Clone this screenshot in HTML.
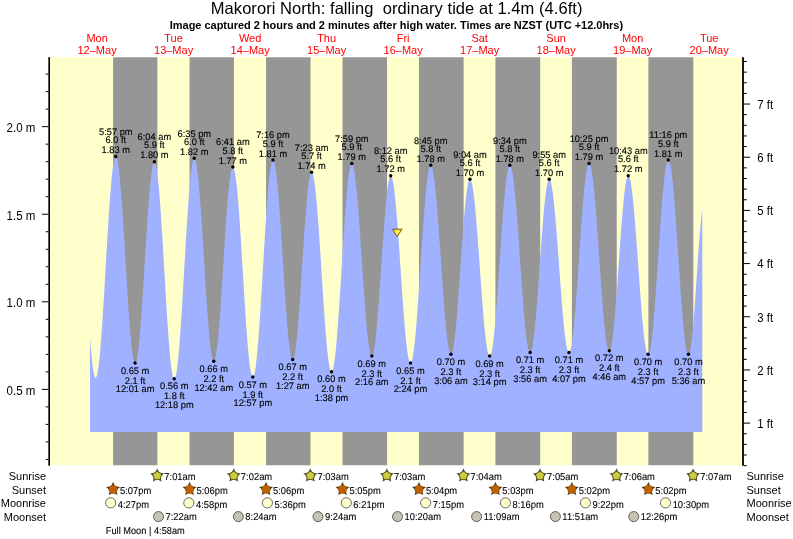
<!DOCTYPE html>
<html><head><meta charset="utf-8"><title>Makorori North tide chart</title>
<style>html,body{margin:0;padding:0;background:#fff}body{width:793px;height:539px;overflow:hidden;position:relative;font-family:"Liberation Sans",sans-serif}</style>
</head><body>
<svg width="793" height="539" viewBox="0 0 793 539" style="position:absolute;left:0;top:0;will-change:transform;font-family:'Liberation Sans',sans-serif">
<rect x="0" y="0" width="793" height="539" fill="#fff"/>
<rect x="50" y="57.25" width="692.5" height="408" fill="#ffffcc"/>
<rect x="113.10" y="57.25" width="44.31" height="408" fill="#969696"/>
<rect x="189.55" y="57.25" width="44.42" height="408" fill="#969696"/>
<rect x="266.06" y="57.25" width="44.47" height="408" fill="#969696"/>
<rect x="342.52" y="57.25" width="44.52" height="408" fill="#969696"/>
<rect x="418.98" y="57.25" width="44.63" height="408" fill="#969696"/>
<rect x="495.43" y="57.25" width="44.74" height="408" fill="#969696"/>
<rect x="571.89" y="57.25" width="44.84" height="408" fill="#969696"/>
<rect x="648.40" y="57.25" width="44.90" height="408" fill="#969696"/>
<path d="M90.00,432.00 L90.00,337.35 L90.50,343.92 L91.00,350.02 L91.50,355.59 L92.00,360.60 L92.50,365.03 L93.00,368.84 L93.50,372.01 L94.00,374.52 L94.50,376.34 L95.00,377.48 L95.50,377.92 L96.00,377.67 L96.50,376.75 L97.00,375.17 L97.50,372.94 L98.00,370.06 L98.50,366.57 L99.00,362.47 L99.50,357.80 L100.00,352.58 L100.50,346.84 L101.00,340.62 L101.50,333.96 L102.00,326.89 L102.50,319.47 L103.00,311.72 L103.50,303.71 L104.00,295.48 L104.50,287.07 L105.00,278.55 L105.50,269.96 L106.00,261.35 L106.50,252.78 L107.00,244.29 L107.50,235.95 L108.00,227.79 L108.50,219.87 L109.00,212.24 L109.50,204.94 L110.00,198.02 L110.50,191.51 L111.00,185.47 L111.50,179.92 L112.00,174.89 L112.50,170.43 L113.00,166.55 L113.50,163.28 L114.00,160.64 L114.50,158.65 L115.00,157.31 L115.50,156.64 L116.00,156.63 L116.50,157.31 L117.00,158.66 L117.50,160.68 L118.00,163.35 L118.50,166.66 L119.00,170.58 L119.50,175.09 L120.00,180.16 L120.50,185.75 L121.00,191.84 L121.50,198.37 L122.00,205.30 L122.50,212.60 L123.00,220.20 L123.50,228.07 L124.00,236.14 L124.50,244.38 L125.00,252.71 L125.50,261.09 L126.00,269.46 L126.50,277.77 L127.00,285.96 L127.50,293.98 L128.00,301.77 L128.50,309.28 L129.00,316.47 L129.50,323.29 L130.00,329.68 L130.50,335.62 L131.00,341.06 L131.50,345.96 L132.00,350.29 L132.50,354.02 L133.00,357.14 L133.50,359.61 L134.00,361.43 L134.50,362.57 L135.00,363.04 L135.50,362.83 L136.00,361.95 L136.50,360.42 L137.00,358.23 L137.50,355.42 L138.00,351.98 L138.50,347.95 L139.00,343.35 L139.50,338.22 L140.00,332.58 L140.50,326.48 L141.00,319.96 L141.50,313.05 L142.00,305.81 L142.50,298.28 L143.00,290.51 L143.50,282.56 L144.00,274.47 L144.50,266.30 L145.00,258.11 L145.50,249.94 L146.00,241.86 L146.50,233.92 L147.00,226.16 L147.50,218.65 L148.00,211.42 L148.50,204.53 L149.00,198.03 L149.50,191.95 L150.00,186.34 L150.50,181.24 L151.00,176.67 L151.50,172.67 L152.00,169.27 L152.50,166.48 L153.00,164.33 L153.50,162.83 L154.00,161.99 L154.50,161.82 L155.00,162.32 L155.50,163.50 L156.00,165.34 L156.50,167.84 L157.00,170.98 L157.50,174.73 L158.00,179.09 L158.50,184.01 L159.00,189.48 L159.50,195.45 L160.00,201.88 L160.50,208.75 L161.00,215.99 L161.50,223.58 L162.00,231.46 L162.50,239.58 L163.00,247.89 L163.50,256.35 L164.00,264.89 L164.50,273.46 L165.00,282.02 L165.50,290.50 L166.00,298.85 L166.50,307.03 L167.00,314.98 L167.50,322.64 L168.00,329.99 L168.50,336.95 L169.00,343.51 L169.50,349.60 L170.00,355.20 L170.50,360.27 L171.00,364.78 L171.50,368.70 L172.00,372.00 L172.50,374.67 L173.00,376.68 L173.50,378.04 L174.00,378.71 L174.50,378.72 L175.00,378.04 L175.50,376.69 L176.00,374.68 L176.50,372.01 L177.00,368.71 L177.50,364.80 L178.00,360.29 L178.50,355.22 L179.00,349.61 L179.50,343.51 L180.00,336.94 L180.50,329.96 L181.00,322.60 L181.50,314.90 L182.00,306.92 L182.50,298.71 L183.00,290.31 L183.50,281.78 L184.00,273.16 L184.50,264.52 L185.00,255.90 L185.50,247.36 L186.00,238.95 L186.50,230.72 L187.00,222.72 L187.50,215.01 L188.00,207.62 L188.50,200.61 L189.00,194.02 L189.50,187.88 L190.00,182.24 L190.50,177.13 L191.00,172.59 L191.50,168.63 L192.00,165.29 L192.50,162.58 L193.00,160.52 L193.50,159.13 L194.00,158.41 L194.50,158.36 L195.00,158.98 L195.50,160.25 L196.00,162.16 L196.50,164.71 L197.00,167.88 L197.50,171.64 L198.00,175.97 L198.50,180.85 L199.00,186.24 L199.50,192.10 L200.00,198.41 L200.50,205.11 L201.00,212.17 L201.50,219.54 L202.00,227.16 L202.50,235.00 L203.00,243.00 L203.50,251.11 L204.00,259.28 L204.50,267.45 L205.00,275.57 L205.50,283.59 L206.00,291.45 L206.50,299.11 L207.00,306.51 L207.50,313.61 L208.00,320.36 L208.50,326.72 L209.00,332.64 L209.50,338.09 L210.00,343.04 L210.50,347.44 L211.00,351.28 L211.50,354.52 L212.00,357.15 L212.50,359.14 L213.00,360.50 L213.50,361.20 L214.00,361.24 L214.50,360.62 L215.00,359.35 L215.50,357.44 L216.00,354.89 L216.50,351.73 L217.00,347.97 L217.50,343.65 L218.00,338.79 L218.50,333.42 L219.00,327.58 L219.50,321.31 L220.00,314.66 L220.50,307.66 L221.00,300.37 L221.50,292.84 L222.00,285.10 L222.50,277.23 L223.00,269.27 L223.50,261.28 L224.00,253.30 L224.50,245.40 L225.00,237.62 L225.50,230.03 L226.00,222.66 L226.50,215.58 L227.00,208.83 L227.50,202.45 L228.00,196.49 L228.50,190.99 L229.00,185.99 L229.50,181.51 L230.00,177.60 L230.50,174.27 L231.00,171.55 L231.50,169.46 L232.00,168.01 L232.50,167.22 L233.00,167.08 L233.50,167.59 L234.00,168.74 L234.50,170.54 L235.00,172.96 L235.50,176.00 L236.00,179.62 L236.50,183.82 L237.00,188.57 L237.50,193.83 L238.00,199.57 L238.50,205.76 L239.00,212.36 L239.50,219.33 L240.00,226.63 L240.50,234.21 L241.00,242.02 L241.50,250.01 L242.00,258.14 L242.50,266.36 L243.00,274.61 L243.50,282.85 L244.00,291.02 L244.50,299.07 L245.00,306.96 L245.50,314.63 L246.00,322.04 L246.50,329.14 L247.00,335.88 L247.50,342.23 L248.00,348.15 L248.50,353.60 L249.00,358.54 L249.50,362.95 L250.00,366.80 L250.50,370.06 L251.00,372.72 L251.50,374.75 L252.00,376.15 L252.50,376.91 L253.00,377.01 L253.50,376.46 L254.00,375.26 L254.50,373.40 L255.00,370.91 L255.50,367.80 L256.00,364.08 L256.50,359.78 L257.00,354.92 L257.50,349.54 L258.00,343.67 L258.50,337.34 L259.00,330.60 L259.50,323.47 L260.00,316.01 L260.50,308.26 L261.00,300.28 L261.50,292.09 L262.00,283.77 L262.50,275.35 L263.00,266.89 L263.50,258.44 L264.00,250.06 L264.50,241.78 L265.00,233.67 L265.50,225.77 L266.00,218.13 L266.50,210.79 L267.00,203.81 L267.50,197.22 L268.00,191.07 L268.50,185.39 L269.00,180.21 L269.50,175.57 L270.00,171.49 L270.50,168.01 L271.00,165.14 L271.50,162.89 L272.00,161.29 L272.50,160.34 L273.00,160.05 L273.50,160.40 L274.00,161.39 L274.50,163.00 L275.00,165.22 L275.50,168.05 L276.00,171.45 L276.50,175.42 L277.00,179.92 L277.50,184.93 L278.00,190.42 L278.50,196.34 L279.00,202.67 L279.50,209.36 L280.00,216.37 L280.50,223.66 L281.00,231.17 L281.50,238.87 L282.00,246.70 L282.50,254.61 L283.00,262.56 L283.50,270.49 L284.00,278.35 L284.50,286.09 L285.00,293.67 L285.50,301.03 L286.00,308.13 L286.50,314.92 L287.00,321.36 L287.50,327.42 L288.00,333.04 L288.50,338.20 L289.00,342.86 L289.50,346.99 L290.00,350.57 L290.50,353.58 L291.00,355.99 L291.50,357.78 L292.00,358.96 L292.50,359.51 L293.00,359.42 L293.50,358.69 L294.00,357.32 L294.50,355.32 L295.00,352.70 L295.50,349.48 L296.00,345.69 L296.50,341.35 L297.00,336.49 L297.50,331.14 L298.00,325.35 L298.50,319.14 L299.00,312.57 L299.50,305.67 L300.00,298.51 L300.50,291.11 L301.00,283.55 L301.50,275.86 L302.00,268.10 L302.50,260.33 L303.00,252.60 L303.50,244.96 L304.00,237.46 L304.50,230.16 L305.00,223.10 L305.50,216.35 L306.00,209.93 L306.50,203.90 L307.00,198.29 L307.50,193.16 L308.00,188.52 L308.50,184.42 L309.00,180.88 L309.50,177.92 L310.00,175.58 L310.50,173.85 L311.00,172.76 L311.50,172.31 L312.00,172.50 L312.50,173.31 L313.00,174.73 L313.50,176.75 L314.00,179.37 L314.50,182.57 L315.00,186.31 L315.50,190.60 L316.00,195.38 L316.50,200.65 L317.00,206.36 L317.50,212.47 L318.00,218.96 L318.50,225.77 L319.00,232.88 L319.50,240.22 L320.00,247.77 L320.50,255.46 L321.00,263.26 L321.50,271.11 L322.00,278.97 L322.50,286.79 L323.00,294.51 L323.50,302.09 L324.00,309.49 L324.50,316.66 L325.00,323.54 L325.50,330.11 L326.00,336.32 L326.50,342.13 L327.00,347.50 L327.50,352.41 L328.00,356.81 L328.50,360.69 L329.00,364.02 L329.50,366.77 L330.00,368.94 L330.50,370.51 L331.00,371.46 L331.50,371.80 L332.00,371.51 L332.50,370.60 L333.00,369.07 L333.50,366.93 L334.00,364.19 L334.50,360.88 L335.00,357.00 L335.50,352.58 L336.00,347.65 L336.50,342.24 L337.00,336.38 L337.50,330.11 L338.00,323.46 L338.50,316.48 L339.00,309.21 L339.50,301.68 L340.00,293.95 L340.50,286.06 L341.00,278.06 L341.50,269.99 L342.00,261.92 L342.50,253.88 L343.00,245.92 L343.50,238.09 L344.00,230.44 L344.50,223.01 L345.00,215.86 L345.50,209.01 L346.00,202.52 L346.50,196.42 L347.00,190.75 L347.50,185.54 L348.00,180.83 L348.50,176.63 L349.00,172.99 L349.50,169.92 L350.00,167.43 L350.50,165.55 L351.00,164.28 L351.50,163.64 L352.00,163.62 L352.50,164.19 L353.00,165.35 L353.50,167.09 L354.00,169.40 L354.50,172.27 L355.00,175.67 L355.50,179.60 L356.00,184.01 L356.50,188.89 L357.00,194.21 L357.50,199.93 L358.00,206.02 L358.50,212.43 L359.00,219.14 L359.50,226.10 L360.00,233.27 L360.50,240.60 L361.00,248.05 L361.50,255.57 L362.00,263.11 L362.50,270.64 L363.00,278.10 L363.50,285.44 L364.00,292.63 L364.50,299.62 L365.00,306.36 L365.50,312.82 L366.00,318.95 L366.50,324.71 L367.00,330.08 L367.50,335.02 L368.00,339.49 L368.50,343.47 L369.00,346.94 L369.50,349.88 L370.00,352.26 L370.50,354.07 L371.00,355.30 L371.50,355.95 L372.00,356.00 L372.50,355.43 L373.00,354.25 L373.50,352.46 L374.00,350.08 L374.50,347.11 L375.00,343.59 L375.50,339.53 L376.00,334.96 L376.50,329.91 L377.00,324.43 L377.50,318.54 L378.00,312.29 L378.50,305.72 L379.00,298.87 L379.50,291.80 L380.00,284.55 L380.50,277.17 L381.00,269.72 L381.50,262.24 L382.00,254.78 L382.50,247.40 L383.00,240.15 L383.50,233.07 L384.00,226.22 L384.50,219.65 L385.00,213.39 L385.50,207.50 L386.00,202.01 L386.50,196.96 L387.00,192.38 L387.50,188.32 L388.00,184.78 L388.50,181.81 L389.00,179.41 L389.50,177.62 L390.00,176.43 L390.50,175.86 L391.00,175.90 L391.50,176.54 L392.00,177.76 L392.50,179.56 L393.00,181.93 L393.50,184.85 L394.00,188.31 L394.50,192.27 L395.00,196.73 L395.50,201.64 L396.00,206.98 L396.50,212.72 L397.00,218.81 L397.50,225.22 L398.00,231.91 L398.50,238.84 L399.00,245.96 L399.50,253.23 L400.00,260.61 L400.50,268.03 L401.00,275.47 L401.50,282.87 L402.00,290.18 L402.50,297.36 L403.00,304.37 L403.50,311.16 L404.00,317.68 L404.50,323.90 L405.00,329.77 L405.50,335.26 L406.00,340.34 L406.50,344.97 L407.00,349.12 L407.50,352.77 L408.00,355.89 L408.50,358.47 L409.00,360.49 L409.50,361.93 L410.00,362.78 L410.50,363.05 L411.00,362.72 L411.50,361.80 L412.00,360.30 L412.50,358.21 L413.00,355.56 L413.50,352.36 L414.00,348.63 L414.50,344.39 L415.00,339.67 L415.50,334.49 L416.00,328.89 L416.50,322.90 L417.00,316.56 L417.50,309.90 L418.00,302.96 L418.50,295.80 L419.00,288.44 L419.50,280.94 L420.00,273.33 L420.50,265.67 L421.00,258.00 L421.50,250.37 L422.00,242.83 L422.50,235.41 L423.00,228.16 L423.50,221.13 L424.00,214.36 L424.50,207.89 L425.00,201.76 L425.50,196.00 L426.00,190.65 L426.50,185.75 L427.00,181.32 L427.50,177.39 L428.00,173.97 L428.50,171.11 L429.00,168.80 L429.50,167.06 L430.00,165.92 L430.50,165.36 L431.00,165.39 L431.50,165.99 L432.00,167.16 L432.50,168.89 L433.00,171.16 L433.50,173.96 L434.00,177.29 L434.50,181.11 L435.00,185.40 L435.50,190.14 L436.00,195.30 L436.50,200.85 L437.00,206.75 L437.50,212.97 L438.00,219.47 L438.50,226.22 L439.00,233.17 L439.50,240.28 L440.00,247.50 L440.50,254.80 L441.00,262.13 L441.50,269.45 L442.00,276.71 L442.50,283.86 L443.00,290.88 L443.50,297.70 L444.00,304.30 L444.50,310.63 L445.00,316.65 L445.50,322.33 L446.00,327.63 L446.50,332.53 L447.00,336.99 L447.50,340.98 L448.00,344.49 L448.50,347.48 L449.00,349.95 L449.50,351.88 L450.00,353.25 L450.50,354.06 L451.00,354.30 L451.50,353.96 L452.00,353.02 L452.50,351.49 L453.00,349.39 L453.50,346.73 L454.00,343.52 L454.50,339.79 L455.00,335.56 L455.50,330.86 L456.00,325.72 L456.50,320.19 L457.00,314.29 L457.50,308.06 L458.00,301.56 L458.50,294.81 L459.00,287.88 L459.50,280.80 L460.00,273.63 L460.50,266.41 L461.00,259.20 L461.50,252.03 L462.00,244.97 L462.50,238.05 L463.00,231.33 L463.50,224.86 L464.00,218.66 L464.50,212.80 L465.00,207.31 L465.50,202.22 L466.00,197.57 L466.50,193.39 L467.00,189.71 L467.50,186.56 L468.00,183.95 L468.50,181.91 L469.00,180.45 L469.50,179.58 L470.00,179.30 L470.50,179.60 L471.00,180.46 L471.50,181.88 L472.00,183.85 L472.50,186.35 L473.00,189.37 L473.50,192.89 L474.00,196.89 L474.50,201.33 L475.00,206.21 L475.50,211.47 L476.00,217.09 L476.50,223.04 L477.00,229.27 L477.50,235.75 L478.00,242.42 L478.50,249.26 L479.00,256.22 L479.50,263.25 L480.00,270.31 L480.50,277.36 L481.00,284.34 L481.50,291.21 L482.00,297.93 L482.50,304.47 L483.00,310.76 L483.50,316.78 L484.00,322.49 L484.50,327.85 L485.00,332.82 L485.50,337.38 L486.00,341.50 L486.50,345.14 L487.00,348.29 L487.50,350.92 L488.00,353.02 L488.50,354.58 L489.00,355.58 L489.50,356.03 L490.00,355.90 L490.50,355.20 L491.00,353.93 L491.50,352.09 L492.00,349.71 L492.50,346.78 L493.00,343.33 L493.50,339.38 L494.00,334.95 L494.50,330.08 L495.00,324.79 L495.50,319.10 L496.00,313.07 L496.50,306.72 L497.00,300.09 L497.50,293.22 L498.00,286.15 L498.50,278.93 L499.00,271.60 L499.50,264.20 L500.00,256.78 L500.50,249.39 L501.00,242.06 L501.50,234.85 L502.00,227.79 L502.50,220.93 L503.00,214.31 L503.50,207.98 L504.00,201.96 L504.50,196.29 L505.00,191.02 L505.50,186.17 L506.00,181.76 L506.50,177.84 L507.00,174.42 L507.50,171.51 L508.00,169.15 L508.50,167.34 L509.00,166.10 L509.50,165.43 L510.00,165.33 L510.50,165.80 L511.00,166.82 L511.50,168.40 L512.00,170.52 L512.50,173.17 L513.00,176.33 L513.50,179.98 L514.00,184.11 L514.50,188.69 L515.00,193.68 L515.50,199.07 L516.00,204.82 L516.50,210.89 L517.00,217.24 L517.50,223.85 L518.00,230.67 L518.50,237.65 L519.00,244.76 L519.50,251.96 L520.00,259.20 L520.50,266.44 L521.00,273.63 L521.50,280.74 L522.00,287.71 L522.50,294.51 L523.00,301.10 L523.50,307.44 L524.00,313.48 L524.50,319.20 L525.00,324.56 L525.50,329.53 L526.00,334.07 L526.50,338.16 L527.00,341.78 L527.50,344.90 L528.00,347.51 L528.50,349.59 L529.00,351.12 L529.50,352.11 L530.00,352.53 L530.50,352.39 L531.00,351.66 L531.50,350.35 L532.00,348.47 L532.50,346.03 L533.00,343.05 L533.50,339.54 L534.00,335.53 L534.50,331.06 L535.00,326.14 L535.50,320.81 L536.00,315.11 L536.50,309.08 L537.00,302.76 L537.50,296.18 L538.00,289.40 L538.50,282.46 L539.00,275.41 L539.50,268.30 L540.00,261.17 L540.50,254.07 L541.00,247.05 L541.50,240.16 L542.00,233.44 L542.50,226.95 L543.00,220.72 L543.50,214.79 L544.00,209.21 L544.50,204.02 L545.00,199.24 L545.50,194.92 L546.00,191.08 L546.50,187.75 L547.00,184.94 L547.50,182.69 L548.00,181.00 L548.50,179.88 L549.00,179.35 L549.50,179.40 L550.00,179.99 L550.50,181.13 L551.00,182.81 L551.50,185.01 L552.00,187.72 L552.50,190.92 L553.00,194.60 L553.50,198.73 L554.00,203.28 L554.50,208.23 L555.00,213.54 L555.50,219.18 L556.00,225.12 L556.50,231.31 L557.00,237.73 L557.50,244.32 L558.00,251.05 L558.50,257.87 L559.00,264.74 L559.50,271.62 L560.00,278.46 L560.50,285.23 L561.00,291.87 L561.50,298.35 L562.00,304.63 L562.50,310.66 L563.00,316.41 L563.50,321.84 L564.00,326.91 L564.50,331.60 L565.00,335.88 L565.50,339.72 L566.00,343.08 L566.50,345.97 L567.00,348.34 L567.50,350.20 L568.00,351.53 L568.50,352.31 L569.00,352.55 L569.50,352.22 L570.00,351.32 L570.50,349.85 L571.00,347.82 L571.50,345.24 L572.00,342.12 L572.50,338.49 L573.00,334.37 L573.50,329.79 L574.00,324.76 L574.50,319.33 L575.00,313.52 L575.50,307.37 L576.00,300.93 L576.50,294.21 L577.00,287.28 L577.50,280.17 L578.00,272.93 L578.50,265.59 L579.00,258.21 L579.50,250.82 L580.00,243.48 L580.50,236.23 L581.00,229.11 L581.50,222.17 L582.00,215.45 L582.50,208.99 L583.00,202.83 L583.50,197.01 L584.00,191.56 L584.50,186.52 L585.00,181.91 L585.50,177.77 L586.00,174.12 L586.50,170.98 L587.00,168.38 L587.50,166.32 L588.00,164.83 L588.50,163.90 L589.00,163.55 L589.50,163.78 L590.00,164.56 L590.50,165.90 L591.00,167.79 L591.50,170.22 L592.00,173.18 L592.50,176.63 L593.00,180.58 L593.50,184.98 L594.00,189.82 L594.50,195.06 L595.00,200.68 L595.50,206.64 L596.00,212.90 L596.50,219.43 L597.00,226.18 L597.50,233.12 L598.00,240.21 L598.50,247.40 L599.00,254.65 L599.50,261.91 L600.00,269.14 L600.50,276.30 L601.00,283.35 L601.50,290.24 L602.00,296.93 L602.50,303.38 L603.00,309.56 L603.50,315.41 L604.00,320.92 L604.50,326.04 L605.00,330.75 L605.50,335.02 L606.00,338.82 L606.50,342.13 L607.00,344.92 L607.50,347.19 L608.00,348.91 L608.50,350.09 L609.00,350.70 L609.50,350.75 L610.00,350.21 L610.50,349.07 L611.00,347.34 L611.50,345.03 L612.00,342.17 L612.50,338.76 L613.00,334.84 L613.50,330.43 L614.00,325.56 L614.50,320.26 L615.00,314.57 L615.50,308.53 L616.00,302.18 L616.50,295.56 L617.00,288.72 L617.50,281.71 L618.00,274.57 L618.50,267.35 L619.00,260.11 L619.50,252.89 L620.00,245.74 L620.50,238.71 L621.00,231.84 L621.50,225.20 L622.00,218.81 L622.50,212.73 L623.00,207.00 L623.50,201.65 L624.00,196.73 L624.50,192.26 L625.00,188.28 L625.50,184.81 L626.00,181.88 L626.50,179.51 L627.00,177.71 L627.50,176.50 L628.00,175.88 L628.50,175.86 L629.00,176.40 L629.50,177.50 L630.00,179.14 L630.50,181.32 L631.00,184.02 L631.50,187.23 L632.00,190.92 L632.50,195.08 L633.00,199.67 L633.50,204.67 L634.00,210.05 L634.50,215.78 L635.00,221.81 L635.50,228.11 L636.00,234.64 L636.50,241.36 L637.00,248.23 L637.50,255.20 L638.00,262.24 L638.50,269.29 L639.00,276.31 L639.50,283.27 L640.00,290.11 L640.50,296.80 L641.00,303.29 L641.50,309.54 L642.00,315.51 L642.50,321.16 L643.00,326.47 L643.50,331.39 L644.00,335.90 L644.50,339.96 L645.00,343.56 L645.50,346.67 L646.00,349.26 L646.50,351.33 L647.00,352.87 L647.50,353.85 L648.00,354.28 L648.50,354.14 L649.00,353.42 L649.50,352.11 L650.00,350.22 L650.50,347.76 L651.00,344.76 L651.50,341.22 L652.00,337.17 L652.50,332.64 L653.00,327.64 L653.50,322.22 L654.00,316.40 L654.50,310.22 L655.00,303.72 L655.50,296.94 L656.00,289.91 L656.50,282.69 L657.00,275.31 L657.50,267.82 L658.00,260.26 L658.50,252.69 L659.00,245.14 L659.50,237.67 L660.00,230.31 L660.50,223.12 L661.00,216.14 L661.50,209.40 L662.00,202.96 L662.50,196.84 L663.00,191.09 L663.50,185.75 L664.00,180.84 L664.50,176.39 L665.00,172.43 L665.50,168.99 L666.00,166.09 L666.50,163.74 L667.00,161.96 L667.50,160.75 L668.00,160.14 L668.50,160.11 L669.00,160.67 L669.50,161.82 L670.00,163.54 L670.50,165.83 L671.00,168.67 L671.50,172.04 L672.00,175.94 L672.50,180.32 L673.00,185.17 L673.50,190.45 L674.00,196.14 L674.50,202.19 L675.00,208.58 L675.50,215.27 L676.00,222.20 L676.50,229.35 L677.00,236.67 L677.50,244.11 L678.00,251.63 L678.50,259.18 L679.00,266.72 L679.50,274.21 L680.00,281.59 L680.50,288.82 L681.00,295.86 L681.50,302.67 L682.00,309.20 L682.50,315.42 L683.00,321.28 L683.50,326.76 L684.00,331.81 L684.50,336.42 L685.00,340.54 L685.50,344.16 L686.00,347.26 L686.50,349.81 L687.00,351.80 L687.50,353.21 L688.00,354.05 L688.50,354.30 L689.00,353.89 L689.50,352.79 L690.00,351.00 L690.50,348.54 L691.00,345.43 L691.50,341.70 L692.00,337.38 L692.50,332.51 L693.00,327.13 L693.50,321.30 L694.00,315.07 L694.50,308.49 L695.00,301.62 L695.50,294.52 L696.00,287.27 L696.50,279.91 L697.00,272.53 L697.50,265.18 L698.00,257.94 L698.50,250.86 L699.00,244.02 L699.50,237.47 L700.00,231.28 L700.50,225.49 L701.00,220.17 L701.50,215.35 L702.00,211.09 L702.30,208.82 L702.30,432.00 Z" fill="#a0b2ff"/>
<g stroke="#000" stroke-width="1" shape-rendering="crispEdges">
<rect x="48.35" y="57.15" width="1.65" height="408.6" fill="#000" stroke="none" shape-rendering="auto"/>
<rect x="742.1" y="57.15" width="1.8" height="408.6" fill="#000" stroke="none" shape-rendering="auto"/>
</g>
<g stroke="#000" stroke-width="1">
<line x1="45.7" y1="459.44" x2="48.5" y2="459.44"/>
<line x1="45.7" y1="441.92" x2="48.5" y2="441.92"/>
<line x1="45.7" y1="424.40" x2="48.5" y2="424.40"/>
<line x1="45.7" y1="406.89" x2="48.5" y2="406.89"/>
<line x1="42" y1="389.38" x2="48.5" y2="389.38"/>
<line x1="45.7" y1="371.86" x2="48.5" y2="371.86"/>
<line x1="45.7" y1="354.35" x2="48.5" y2="354.35"/>
<line x1="45.7" y1="336.83" x2="48.5" y2="336.83"/>
<line x1="45.7" y1="319.31" x2="48.5" y2="319.31"/>
<line x1="42" y1="301.80" x2="48.5" y2="301.80"/>
<line x1="45.7" y1="284.28" x2="48.5" y2="284.28"/>
<line x1="45.7" y1="266.77" x2="48.5" y2="266.77"/>
<line x1="45.7" y1="249.25" x2="48.5" y2="249.25"/>
<line x1="45.7" y1="231.74" x2="48.5" y2="231.74"/>
<line x1="42" y1="214.22" x2="48.5" y2="214.22"/>
<line x1="45.7" y1="196.71" x2="48.5" y2="196.71"/>
<line x1="45.7" y1="179.19" x2="48.5" y2="179.19"/>
<line x1="45.7" y1="161.68" x2="48.5" y2="161.68"/>
<line x1="45.7" y1="144.17" x2="48.5" y2="144.17"/>
<line x1="42" y1="126.65" x2="48.5" y2="126.65"/>
<line x1="45.7" y1="109.13" x2="48.5" y2="109.13"/>
<line x1="45.7" y1="91.62" x2="48.5" y2="91.62"/>
<line x1="45.7" y1="74.11" x2="48.5" y2="74.11"/>
<line x1="743.8" y1="465.66" x2="746.8" y2="465.66"/>
<line x1="743.8" y1="455.03" x2="746.8" y2="455.03"/>
<line x1="743.8" y1="444.39" x2="746.8" y2="444.39"/>
<line x1="743.8" y1="433.76" x2="746.8" y2="433.76"/>
<line x1="743.8" y1="423.12" x2="750" y2="423.12"/>
<line x1="743.8" y1="412.48" x2="746.8" y2="412.48"/>
<line x1="743.8" y1="401.85" x2="746.8" y2="401.85"/>
<line x1="743.8" y1="391.21" x2="746.8" y2="391.21"/>
<line x1="743.8" y1="380.58" x2="746.8" y2="380.58"/>
<line x1="743.8" y1="369.94" x2="750" y2="369.94"/>
<line x1="743.8" y1="359.30" x2="746.8" y2="359.30"/>
<line x1="743.8" y1="348.67" x2="746.8" y2="348.67"/>
<line x1="743.8" y1="338.03" x2="746.8" y2="338.03"/>
<line x1="743.8" y1="327.40" x2="746.8" y2="327.40"/>
<line x1="743.8" y1="316.76" x2="750" y2="316.76"/>
<line x1="743.8" y1="306.12" x2="746.8" y2="306.12"/>
<line x1="743.8" y1="295.49" x2="746.8" y2="295.49"/>
<line x1="743.8" y1="284.85" x2="746.8" y2="284.85"/>
<line x1="743.8" y1="274.22" x2="746.8" y2="274.22"/>
<line x1="743.8" y1="263.58" x2="750" y2="263.58"/>
<line x1="743.8" y1="252.94" x2="746.8" y2="252.94"/>
<line x1="743.8" y1="242.31" x2="746.8" y2="242.31"/>
<line x1="743.8" y1="231.67" x2="746.8" y2="231.67"/>
<line x1="743.8" y1="221.04" x2="746.8" y2="221.04"/>
<line x1="743.8" y1="210.40" x2="750" y2="210.40"/>
<line x1="743.8" y1="199.76" x2="746.8" y2="199.76"/>
<line x1="743.8" y1="189.13" x2="746.8" y2="189.13"/>
<line x1="743.8" y1="178.49" x2="746.8" y2="178.49"/>
<line x1="743.8" y1="167.86" x2="746.8" y2="167.86"/>
<line x1="743.8" y1="157.22" x2="750" y2="157.22"/>
<line x1="743.8" y1="146.58" x2="746.8" y2="146.58"/>
<line x1="743.8" y1="135.95" x2="746.8" y2="135.95"/>
<line x1="743.8" y1="125.31" x2="746.8" y2="125.31"/>
<line x1="743.8" y1="114.68" x2="746.8" y2="114.68"/>
<line x1="743.8" y1="104.04" x2="750" y2="104.04"/>
<line x1="743.8" y1="93.40" x2="746.8" y2="93.40"/>
<line x1="743.8" y1="82.77" x2="746.8" y2="82.77"/>
<line x1="743.8" y1="72.13" x2="746.8" y2="72.13"/>
<line x1="743.8" y1="61.50" x2="746.8" y2="61.50"/>
</g>
<g font-size="12" fill="#000">
<text transform="translate(35.4 394.50) scale(0.96 1)" text-anchor="end">0.5 m</text>
<text transform="translate(35.4 306.50) scale(0.96 1)" text-anchor="end">1.0 m</text>
<text transform="translate(35.4 219.50) scale(0.96 1)" text-anchor="end">1.5 m</text>
<text transform="translate(35.4 131.50) scale(0.96 1)" text-anchor="end">2.0 m</text>
<text transform="translate(757.3 428.02) scale(0.95 1)">1 ft</text>
<text transform="translate(757.3 374.84) scale(0.95 1)">2 ft</text>
<text transform="translate(757.3 321.66) scale(0.95 1)">3 ft</text>
<text transform="translate(757.3 268.48) scale(0.95 1)">4 ft</text>
<text transform="translate(757.3 215.30) scale(0.95 1)">5 ft</text>
<text transform="translate(757.3 162.12) scale(0.95 1)">6 ft</text>
<text transform="translate(757.3 108.94) scale(0.95 1)">7 ft</text>
</g>
<text x="210.8" y="14" font-size="16.5" textLength="371.7" lengthAdjust="spacing" fill="#000" xml:space="preserve">Makorori North: falling  ordinary tide at 1.4m (4.6ft)</text>
<text x="169.8" y="28.6" font-size="11" font-weight="bold" textLength="453.3" lengthAdjust="spacing" fill="#000">Image captured 2 hours and 2 minutes after high water. Times are NZST (UTC +12.0hrs)</text>
<g font-size="11" fill="#ff0000" text-anchor="middle">
<text x="97.08" y="41.6">Mon</text>
<text x="97.08" y="54.4">12–May</text>
<text x="173.60" y="41.6">Tue</text>
<text x="173.60" y="54.4">13–May</text>
<text x="250.11" y="41.6">Wed</text>
<text x="250.11" y="54.4">14–May</text>
<text x="326.62" y="41.6">Thu</text>
<text x="326.62" y="54.4">15–May</text>
<text x="403.13" y="41.6">Fri</text>
<text x="403.13" y="54.4">16–May</text>
<text x="479.64" y="41.6">Sat</text>
<text x="479.64" y="54.4">17–May</text>
<text x="556.14" y="41.6">Sun</text>
<text x="556.14" y="54.4">18–May</text>
<text x="632.65" y="41.6">Mon</text>
<text x="632.65" y="54.4">19–May</text>
<text x="709.16" y="41.6">Tue</text>
<text x="709.16" y="54.4">20–May</text>
</g>
<g font-size="9.6" fill="#000" stroke="#000" stroke-width="0.12" text-anchor="middle">
<text transform="translate(115.75 134.85) scale(0.97 1) skewX(0.1)">5:57 pm</text>
<text transform="translate(115.75 143.05) scale(0.97 1) skewX(0.1)">6.0 ft</text>
<text transform="translate(115.75 153.05) scale(0.97 1) skewX(0.1)">1.83 m</text>
<text transform="translate(135.09 373.55) scale(0.97 1) skewX(0.1)">0.65 m</text>
<text transform="translate(135.09 383.55) scale(0.97 1) skewX(0.1)">2.1 ft</text>
<text transform="translate(135.09 392.25) scale(0.97 1) skewX(0.1)">12:01 am</text>
<text transform="translate(154.38 140.10) scale(0.97 1) skewX(0.1)">6:04 am</text>
<text transform="translate(154.38 148.30) scale(0.97 1) skewX(0.1)">5.9 ft</text>
<text transform="translate(154.38 158.30) scale(0.97 1) skewX(0.1)">1.80 m</text>
<text transform="translate(174.25 389.30) scale(0.97 1) skewX(0.1)">0.56 m</text>
<text transform="translate(174.25 399.30) scale(0.97 1) skewX(0.1)">1.8 ft</text>
<text transform="translate(174.25 408.00) scale(0.97 1) skewX(0.1)">12:18 pm</text>
<text transform="translate(194.28 136.60) scale(0.97 1) skewX(0.1)">6:35 pm</text>
<text transform="translate(194.28 144.80) scale(0.97 1) skewX(0.1)">6.0 ft</text>
<text transform="translate(194.28 154.80) scale(0.97 1) skewX(0.1)">1.82 m</text>
<text transform="translate(213.78 371.80) scale(0.97 1) skewX(0.1)">0.66 m</text>
<text transform="translate(213.78 381.80) scale(0.97 1) skewX(0.1)">2.2 ft</text>
<text transform="translate(213.78 390.50) scale(0.97 1) skewX(0.1)">12:42 am</text>
<text transform="translate(232.86 145.35) scale(0.97 1) skewX(0.1)">6:41 am</text>
<text transform="translate(232.86 153.55) scale(0.97 1) skewX(0.1)">5.8 ft</text>
<text transform="translate(232.86 163.55) scale(0.97 1) skewX(0.1)">1.77 m</text>
<text transform="translate(252.83 387.55) scale(0.97 1) skewX(0.1)">0.57 m</text>
<text transform="translate(252.83 397.55) scale(0.97 1) skewX(0.1)">1.9 ft</text>
<text transform="translate(252.83 406.25) scale(0.97 1) skewX(0.1)">12:57 pm</text>
<text transform="translate(272.97 138.35) scale(0.97 1) skewX(0.1)">7:16 pm</text>
<text transform="translate(272.97 146.55) scale(0.97 1) skewX(0.1)">5.9 ft</text>
<text transform="translate(272.97 156.55) scale(0.97 1) skewX(0.1)">1.81 m</text>
<text transform="translate(292.68 370.05) scale(0.97 1) skewX(0.1)">0.67 m</text>
<text transform="translate(292.68 380.05) scale(0.97 1) skewX(0.1)">2.2 ft</text>
<text transform="translate(292.68 388.75) scale(0.97 1) skewX(0.1)">1:27 am</text>
<text transform="translate(311.60 150.60) scale(0.97 1) skewX(0.1)">7:23 am</text>
<text transform="translate(311.60 158.80) scale(0.97 1) skewX(0.1)">5.7 ft</text>
<text transform="translate(311.60 168.80) scale(0.97 1) skewX(0.1)">1.74 m</text>
<text transform="translate(331.52 382.30) scale(0.97 1) skewX(0.1)">0.60 m</text>
<text transform="translate(331.52 392.30) scale(0.97 1) skewX(0.1)">2.0 ft</text>
<text transform="translate(331.52 401.00) scale(0.97 1) skewX(0.1)">1:38 pm</text>
<text transform="translate(351.77 141.85) scale(0.97 1) skewX(0.1)">7:59 pm</text>
<text transform="translate(351.77 150.05) scale(0.97 1) skewX(0.1)">5.9 ft</text>
<text transform="translate(351.77 160.05) scale(0.97 1) skewX(0.1)">1.79 m</text>
<text transform="translate(371.80 366.55) scale(0.97 1) skewX(0.1)">0.69 m</text>
<text transform="translate(371.80 376.55) scale(0.97 1) skewX(0.1)">2.3 ft</text>
<text transform="translate(371.80 385.25) scale(0.97 1) skewX(0.1)">2:16 am</text>
<text transform="translate(390.71 154.10) scale(0.97 1) skewX(0.1)">8:12 am</text>
<text transform="translate(390.71 162.30) scale(0.97 1) skewX(0.1)">5.6 ft</text>
<text transform="translate(390.71 172.30) scale(0.97 1) skewX(0.1)">1.72 m</text>
<text transform="translate(410.48 373.55) scale(0.97 1) skewX(0.1)">0.65 m</text>
<text transform="translate(410.48 383.55) scale(0.97 1) skewX(0.1)">2.1 ft</text>
<text transform="translate(410.48 392.25) scale(0.97 1) skewX(0.1)">2:24 pm</text>
<text transform="translate(430.72 143.60) scale(0.97 1) skewX(0.1)">8:45 pm</text>
<text transform="translate(430.72 151.80) scale(0.97 1) skewX(0.1)">5.8 ft</text>
<text transform="translate(430.72 161.80) scale(0.97 1) skewX(0.1)">1.78 m</text>
<text transform="translate(450.96 364.80) scale(0.97 1) skewX(0.1)">0.70 m</text>
<text transform="translate(450.96 374.80) scale(0.97 1) skewX(0.1)">2.3 ft</text>
<text transform="translate(450.96 383.50) scale(0.97 1) skewX(0.1)">3:06 am</text>
<text transform="translate(469.98 157.60) scale(0.97 1) skewX(0.1)">9:04 am</text>
<text transform="translate(469.98 165.80) scale(0.97 1) skewX(0.1)">5.6 ft</text>
<text transform="translate(469.98 175.80) scale(0.97 1) skewX(0.1)">1.70 m</text>
<text transform="translate(489.64 366.55) scale(0.97 1) skewX(0.1)">0.69 m</text>
<text transform="translate(489.64 376.55) scale(0.97 1) skewX(0.1)">2.3 ft</text>
<text transform="translate(489.64 385.25) scale(0.97 1) skewX(0.1)">3:14 pm</text>
<text transform="translate(509.83 143.60) scale(0.97 1) skewX(0.1)">9:34 pm</text>
<text transform="translate(509.83 151.80) scale(0.97 1) skewX(0.1)">5.8 ft</text>
<text transform="translate(509.83 161.80) scale(0.97 1) skewX(0.1)">1.78 m</text>
<text transform="translate(530.13 363.05) scale(0.97 1) skewX(0.1)">0.71 m</text>
<text transform="translate(530.13 373.05) scale(0.97 1) skewX(0.1)">2.3 ft</text>
<text transform="translate(530.13 381.75) scale(0.97 1) skewX(0.1)">3:56 am</text>
<text transform="translate(549.20 157.60) scale(0.97 1) skewX(0.1)">9:55 am</text>
<text transform="translate(549.20 165.80) scale(0.97 1) skewX(0.1)">5.6 ft</text>
<text transform="translate(549.20 175.80) scale(0.97 1) skewX(0.1)">1.70 m</text>
<text transform="translate(568.97 363.05) scale(0.97 1) skewX(0.1)">0.71 m</text>
<text transform="translate(568.97 373.05) scale(0.97 1) skewX(0.1)">2.3 ft</text>
<text transform="translate(568.97 381.75) scale(0.97 1) skewX(0.1)">4:07 pm</text>
<text transform="translate(589.05 141.85) scale(0.97 1) skewX(0.1)">10:25 pm</text>
<text transform="translate(589.05 150.05) scale(0.97 1) skewX(0.1)">5.9 ft</text>
<text transform="translate(589.05 160.05) scale(0.97 1) skewX(0.1)">1.79 m</text>
<text transform="translate(609.30 361.30) scale(0.97 1) skewX(0.1)">0.72 m</text>
<text transform="translate(609.30 371.30) scale(0.97 1) skewX(0.1)">2.4 ft</text>
<text transform="translate(609.30 380.00) scale(0.97 1) skewX(0.1)">4:46 am</text>
<text transform="translate(628.26 154.10) scale(0.97 1) skewX(0.1)">10:43 am</text>
<text transform="translate(628.26 162.30) scale(0.97 1) skewX(0.1)">5.6 ft</text>
<text transform="translate(628.26 172.30) scale(0.97 1) skewX(0.1)">1.72 m</text>
<text transform="translate(648.14 364.80) scale(0.97 1) skewX(0.1)">0.70 m</text>
<text transform="translate(648.14 374.80) scale(0.97 1) skewX(0.1)">2.3 ft</text>
<text transform="translate(648.14 383.50) scale(0.97 1) skewX(0.1)">4:57 pm</text>
<text transform="translate(668.27 138.35) scale(0.97 1) skewX(0.1)">11:16 pm</text>
<text transform="translate(668.27 146.55) scale(0.97 1) skewX(0.1)">5.9 ft</text>
<text transform="translate(668.27 156.55) scale(0.97 1) skewX(0.1)">1.81 m</text>
<text transform="translate(688.46 364.80) scale(0.97 1) skewX(0.1)">0.70 m</text>
<text transform="translate(688.46 374.80) scale(0.97 1) skewX(0.1)">2.3 ft</text>
<text transform="translate(688.46 383.50) scale(0.97 1) skewX(0.1)">5:36 am</text>
</g>
<circle cx="115.75" cy="156.55" r="1.7" fill="#000"/>
<circle cx="135.09" cy="363.05" r="1.7" fill="#000"/>
<circle cx="154.38" cy="161.80" r="1.7" fill="#000"/>
<circle cx="174.25" cy="378.80" r="1.7" fill="#000"/>
<circle cx="194.28" cy="158.30" r="1.7" fill="#000"/>
<circle cx="213.78" cy="361.30" r="1.7" fill="#000"/>
<circle cx="232.86" cy="167.05" r="1.7" fill="#000"/>
<circle cx="252.83" cy="377.05" r="1.7" fill="#000"/>
<circle cx="272.97" cy="160.05" r="1.7" fill="#000"/>
<circle cx="292.68" cy="359.55" r="1.7" fill="#000"/>
<circle cx="311.60" cy="172.30" r="1.7" fill="#000"/>
<circle cx="331.52" cy="371.80" r="1.7" fill="#000"/>
<circle cx="351.77" cy="163.55" r="1.7" fill="#000"/>
<circle cx="371.80" cy="356.05" r="1.7" fill="#000"/>
<circle cx="390.71" cy="175.80" r="1.7" fill="#000"/>
<circle cx="410.48" cy="363.05" r="1.7" fill="#000"/>
<circle cx="430.72" cy="165.30" r="1.7" fill="#000"/>
<circle cx="450.96" cy="354.30" r="1.7" fill="#000"/>
<circle cx="469.98" cy="179.30" r="1.7" fill="#000"/>
<circle cx="489.64" cy="356.05" r="1.7" fill="#000"/>
<circle cx="509.83" cy="165.30" r="1.7" fill="#000"/>
<circle cx="530.13" cy="352.55" r="1.7" fill="#000"/>
<circle cx="549.20" cy="179.30" r="1.7" fill="#000"/>
<circle cx="568.97" cy="352.55" r="1.7" fill="#000"/>
<circle cx="589.05" cy="163.55" r="1.7" fill="#000"/>
<circle cx="609.30" cy="350.80" r="1.7" fill="#000"/>
<circle cx="628.26" cy="175.80" r="1.7" fill="#000"/>
<circle cx="648.14" cy="354.30" r="1.7" fill="#000"/>
<circle cx="668.27" cy="160.05" r="1.7" fill="#000"/>
<circle cx="688.46" cy="354.30" r="1.7" fill="#000"/>
<path d="M392.6,229.2 L402,229.2 L397.1,236.7 Z" fill="#f0f040" stroke="#703000" stroke-width="0.8"/>
<g font-size="11" fill="#000">
<text x="46" y="479.70" text-anchor="end">Sunrise</text>
<text x="746.5" y="479.70">Sunrise</text>
<text x="46" y="493.70" text-anchor="end">Sunset</text>
<text x="746.5" y="493.70">Sunset</text>
<text x="46" y="506.80" text-anchor="end">Moonrise</text>
<text x="746.5" y="506.80">Moonrise</text>
<text x="46" y="520.60" text-anchor="end">Moonset</text>
<text x="746.5" y="520.60">Moonset</text>
</g>
<g font-size="10" fill="#000" stroke="#000" stroke-width="0.1">
<polygon points="157.21,468.50 159.15,473.03 164.06,473.48 160.35,476.72 161.44,481.52 157.21,479.00 152.98,481.52 154.07,476.72 150.36,473.48 155.27,473.03" fill="#4a4a18"/>
<polygon points="157.21,470.40 159.73,472.23 162.25,474.06 161.29,477.02 160.32,479.99 157.21,479.99 154.09,479.99 153.13,477.02 152.17,474.06 154.69,472.23" fill="#5a5a20"/>
<polygon points="157.21,471.40 159.25,472.89 161.30,474.37 160.52,476.77 159.74,479.18 157.21,479.18 154.68,479.18 153.90,476.77 153.12,474.37 155.16,472.89" fill="#cccc40"/>
<text transform="translate(164.31 479.50) scale(0.94 1) skewX(0.1)">7:01am</text>
<polygon points="233.77,468.50 235.71,473.03 240.62,473.48 236.91,476.72 238.00,481.52 233.77,479.00 229.54,481.52 230.63,476.72 226.92,473.48 231.83,473.03" fill="#4a4a18"/>
<polygon points="233.77,470.40 236.29,472.23 238.81,474.06 237.85,477.02 236.89,479.99 233.77,479.99 230.66,479.99 229.69,477.02 228.73,474.06 231.25,472.23" fill="#5a5a20"/>
<polygon points="233.77,471.40 235.82,472.89 237.86,474.37 237.08,476.77 236.30,479.18 233.77,479.18 231.24,479.18 230.46,476.77 229.68,474.37 231.73,472.89" fill="#cccc40"/>
<text transform="translate(240.87 479.50) scale(0.94 1) skewX(0.1)">7:02am</text>
<polygon points="310.33,468.50 312.27,473.03 317.18,473.48 313.47,476.72 314.57,481.52 310.33,479.00 306.10,481.52 307.20,476.72 303.49,473.48 308.40,473.03" fill="#4a4a18"/>
<polygon points="310.33,470.40 312.86,472.23 315.38,474.06 314.41,477.02 313.45,479.99 310.33,479.99 307.22,479.99 306.26,477.02 305.29,474.06 307.81,472.23" fill="#5a5a20"/>
<polygon points="310.33,471.40 312.38,472.89 314.42,474.37 313.64,476.77 312.86,479.18 310.33,479.18 307.81,479.18 307.03,476.77 306.25,474.37 308.29,472.89" fill="#cccc40"/>
<text transform="translate(317.43 479.50) scale(0.94 1) skewX(0.1)">7:03am</text>
<polygon points="386.84,468.50 388.78,473.03 393.69,473.48 389.98,476.72 391.08,481.52 386.84,479.00 382.61,481.52 383.71,476.72 380.00,473.48 384.91,473.03" fill="#4a4a18"/>
<polygon points="386.84,470.40 389.37,472.23 391.89,474.06 390.92,477.02 389.96,479.99 386.84,479.99 383.73,479.99 382.77,477.02 381.80,474.06 384.32,472.23" fill="#5a5a20"/>
<polygon points="386.84,471.40 388.89,472.89 390.93,474.37 390.15,476.77 389.37,479.18 386.84,479.18 384.32,479.18 383.54,476.77 382.76,474.37 384.80,472.89" fill="#cccc40"/>
<text transform="translate(393.94 479.50) scale(0.94 1) skewX(0.1)">7:03am</text>
<polygon points="463.41,468.50 465.35,473.03 470.26,473.48 466.55,476.72 467.64,481.52 463.41,479.00 459.18,481.52 460.27,476.72 456.56,473.48 461.47,473.03" fill="#4a4a18"/>
<polygon points="463.41,470.40 465.93,472.23 468.45,474.06 467.49,477.02 466.52,479.99 463.41,479.99 460.29,479.99 459.33,477.02 458.37,474.06 460.89,472.23" fill="#5a5a20"/>
<polygon points="463.41,471.40 465.45,472.89 467.50,474.37 466.72,476.77 465.94,479.18 463.41,479.18 460.88,479.18 460.10,476.77 459.32,474.37 461.36,472.89" fill="#cccc40"/>
<text transform="translate(470.51 479.50) scale(0.94 1) skewX(0.1)">7:04am</text>
<polygon points="539.97,468.50 541.91,473.03 546.82,473.48 543.11,476.72 544.20,481.52 539.97,479.00 535.74,481.52 536.83,476.72 533.12,473.48 538.03,473.03" fill="#4a4a18"/>
<polygon points="539.97,470.40 542.49,472.23 545.01,474.06 544.05,477.02 543.09,479.99 539.97,479.99 536.86,479.99 535.89,477.02 534.93,474.06 537.45,472.23" fill="#5a5a20"/>
<polygon points="539.97,471.40 542.02,472.89 544.06,474.37 543.28,476.77 542.50,479.18 539.97,479.18 537.44,479.18 536.66,476.77 535.88,474.37 537.93,472.89" fill="#cccc40"/>
<text transform="translate(547.07 479.50) scale(0.94 1) skewX(0.1)">7:05am</text>
<polygon points="616.53,468.50 618.47,473.03 623.38,473.48 619.67,476.72 620.77,481.52 616.53,479.00 612.30,481.52 613.40,476.72 609.69,473.48 614.59,473.03" fill="#4a4a18"/>
<polygon points="616.53,470.40 619.05,472.23 621.57,474.06 620.61,477.02 619.65,479.99 616.53,479.99 613.42,479.99 612.46,477.02 611.49,474.06 614.01,472.23" fill="#5a5a20"/>
<polygon points="616.53,471.40 618.58,472.89 620.62,474.37 619.84,476.77 619.06,479.18 616.53,479.18 614.01,479.18 613.23,476.77 612.44,474.37 614.49,472.89" fill="#cccc40"/>
<text transform="translate(623.63 479.50) scale(0.94 1) skewX(0.1)">7:06am</text>
<polygon points="693.10,468.50 695.04,473.03 699.94,473.48 696.24,476.72 697.33,481.52 693.10,479.00 688.87,481.52 689.96,476.72 686.25,473.48 691.16,473.03" fill="#4a4a18"/>
<polygon points="693.10,470.40 695.62,472.23 698.14,474.06 697.18,477.02 696.21,479.99 693.10,479.99 689.98,479.99 689.02,477.02 688.06,474.06 690.58,472.23" fill="#5a5a20"/>
<polygon points="693.10,471.40 695.14,472.89 697.19,474.37 696.41,476.77 695.62,479.18 693.10,479.18 690.57,479.18 689.79,476.77 689.01,474.37 691.05,472.89" fill="#cccc40"/>
<text transform="translate(700.20 479.50) scale(0.94 1) skewX(0.1)">7:07am</text>
<polygon points="113.10,481.95 115.04,486.48 119.94,486.93 116.23,490.17 117.33,494.97 113.10,492.45 108.86,494.97 109.96,490.17 106.25,486.93 111.16,486.48" fill="#4a4010"/>
<circle cx="113.10" cy="489.35" r="4.4" fill="#c06000"/>
<text transform="translate(120.00 493.75) scale(0.94 1) skewX(0.1)">5:07pm</text>
<polygon points="189.55,481.95 191.49,486.48 196.40,486.93 192.69,490.17 193.79,494.97 189.55,492.45 185.32,494.97 186.41,490.17 182.71,486.93 187.61,486.48" fill="#4a4010"/>
<circle cx="189.55" cy="489.35" r="4.4" fill="#c06000"/>
<text transform="translate(196.45 493.75) scale(0.94 1) skewX(0.1)">5:06pm</text>
<polygon points="266.06,481.95 268.00,486.48 272.91,486.93 269.20,490.17 270.30,494.97 266.06,492.45 261.83,494.97 262.92,490.17 259.22,486.93 264.12,486.48" fill="#4a4010"/>
<circle cx="266.06" cy="489.35" r="4.4" fill="#c06000"/>
<text transform="translate(272.96 493.75) scale(0.94 1) skewX(0.1)">5:06pm</text>
<polygon points="342.52,481.95 344.46,486.48 349.37,486.93 345.66,490.17 346.75,494.97 342.52,492.45 338.29,494.97 339.38,490.17 335.67,486.93 340.58,486.48" fill="#4a4010"/>
<circle cx="342.52" cy="489.35" r="4.4" fill="#c06000"/>
<text transform="translate(349.42 493.75) scale(0.94 1) skewX(0.1)">5:05pm</text>
<polygon points="418.98,481.95 420.92,486.48 425.82,486.93 422.12,490.17 423.21,494.97 418.98,492.45 414.75,494.97 415.84,490.17 412.13,486.93 417.04,486.48" fill="#4a4010"/>
<circle cx="418.98" cy="489.35" r="4.4" fill="#c06000"/>
<text transform="translate(425.88 493.75) scale(0.94 1) skewX(0.1)">5:04pm</text>
<polygon points="495.43,481.95 497.37,486.48 502.28,486.93 498.57,490.17 499.67,494.97 495.43,492.45 491.20,494.97 492.30,490.17 488.59,486.93 493.49,486.48" fill="#4a4010"/>
<circle cx="495.43" cy="489.35" r="4.4" fill="#c06000"/>
<text transform="translate(502.33 493.75) scale(0.94 1) skewX(0.1)">5:03pm</text>
<polygon points="571.89,481.95 573.83,486.48 578.74,486.93 575.03,490.17 576.12,494.97 571.89,492.45 567.66,494.97 568.75,490.17 565.04,486.93 569.95,486.48" fill="#4a4010"/>
<circle cx="571.89" cy="489.35" r="4.4" fill="#c06000"/>
<text transform="translate(578.79 493.75) scale(0.94 1) skewX(0.1)">5:02pm</text>
<polygon points="648.40,481.95 650.34,486.48 655.25,486.93 651.54,490.17 652.63,494.97 648.40,492.45 644.17,494.97 645.26,490.17 641.55,486.93 646.46,486.48" fill="#4a4010"/>
<circle cx="648.40" cy="489.35" r="4.4" fill="#c06000"/>
<text transform="translate(655.30 493.75) scale(0.94 1) skewX(0.1)">5:02pm</text>
<circle cx="110.67" cy="502.85" r="5.1" fill="#ffffcc" stroke="#585858" stroke-width="0.9"/>
<text transform="translate(117.77 508.15) scale(0.94 1) skewX(0.1)">4:27pm</text>
<circle cx="188.83" cy="502.85" r="5.1" fill="#ffffcc" stroke="#585858" stroke-width="0.9"/>
<text transform="translate(195.93 508.15) scale(0.94 1) skewX(0.1)">4:58pm</text>
<circle cx="267.36" cy="502.85" r="5.1" fill="#ffffcc" stroke="#585858" stroke-width="0.9"/>
<text transform="translate(274.46 508.15) scale(0.94 1) skewX(0.1)">5:36pm</text>
<circle cx="346.26" cy="502.85" r="5.1" fill="#ffffcc" stroke="#585858" stroke-width="0.9"/>
<text transform="translate(353.36 508.15) scale(0.94 1) skewX(0.1)">6:21pm</text>
<circle cx="425.64" cy="502.85" r="5.1" fill="#ffffcc" stroke="#585858" stroke-width="0.9"/>
<text transform="translate(432.74 508.15) scale(0.94 1) skewX(0.1)">7:15pm</text>
<circle cx="505.39" cy="502.85" r="5.1" fill="#ffffcc" stroke="#585858" stroke-width="0.9"/>
<text transform="translate(512.49 508.15) scale(0.94 1) skewX(0.1)">8:16pm</text>
<circle cx="585.41" cy="502.85" r="5.1" fill="#ffffcc" stroke="#585858" stroke-width="0.9"/>
<text transform="translate(592.51 508.15) scale(0.94 1) skewX(0.1)">9:22pm</text>
<circle cx="665.53" cy="502.85" r="5.1" fill="#ffffcc" stroke="#585858" stroke-width="0.9"/>
<text transform="translate(672.63 508.15) scale(0.94 1) skewX(0.1)">10:30pm</text>
<circle cx="158.52" cy="516.60" r="5.0" fill="#c8c4b4" stroke="#505050" stroke-width="0.9"/>
<text transform="translate(165.52 520.10) scale(0.94 1) skewX(0.1)">7:22am</text>
<circle cx="238.33" cy="516.60" r="5.0" fill="#c8c4b4" stroke="#505050" stroke-width="0.9"/>
<text transform="translate(245.33 520.10) scale(0.94 1) skewX(0.1)">8:24am</text>
<circle cx="318.03" cy="516.60" r="5.0" fill="#c8c4b4" stroke="#505050" stroke-width="0.9"/>
<text transform="translate(325.03 520.10) scale(0.94 1) skewX(0.1)">9:24am</text>
<circle cx="397.51" cy="516.60" r="5.0" fill="#c8c4b4" stroke="#505050" stroke-width="0.9"/>
<text transform="translate(404.51 520.10) scale(0.94 1) skewX(0.1)">10:20am</text>
<circle cx="476.63" cy="516.60" r="5.0" fill="#c8c4b4" stroke="#505050" stroke-width="0.9"/>
<text transform="translate(483.63 520.10) scale(0.94 1) skewX(0.1)">11:09am</text>
<circle cx="555.37" cy="516.60" r="5.0" fill="#c8c4b4" stroke="#505050" stroke-width="0.9"/>
<text transform="translate(562.37 520.10) scale(0.94 1) skewX(0.1)">11:51am</text>
<circle cx="633.74" cy="516.60" r="5.0" fill="#c8c4b4" stroke="#505050" stroke-width="0.9"/>
<text transform="translate(640.74 520.10) scale(0.94 1) skewX(0.1)">12:26pm</text>
<text transform="translate(105.80 533.80) scale(0.925 1) skewX(0.1)">Full Moon | 4:58am</text>
</g>
</svg>
</body></html>
